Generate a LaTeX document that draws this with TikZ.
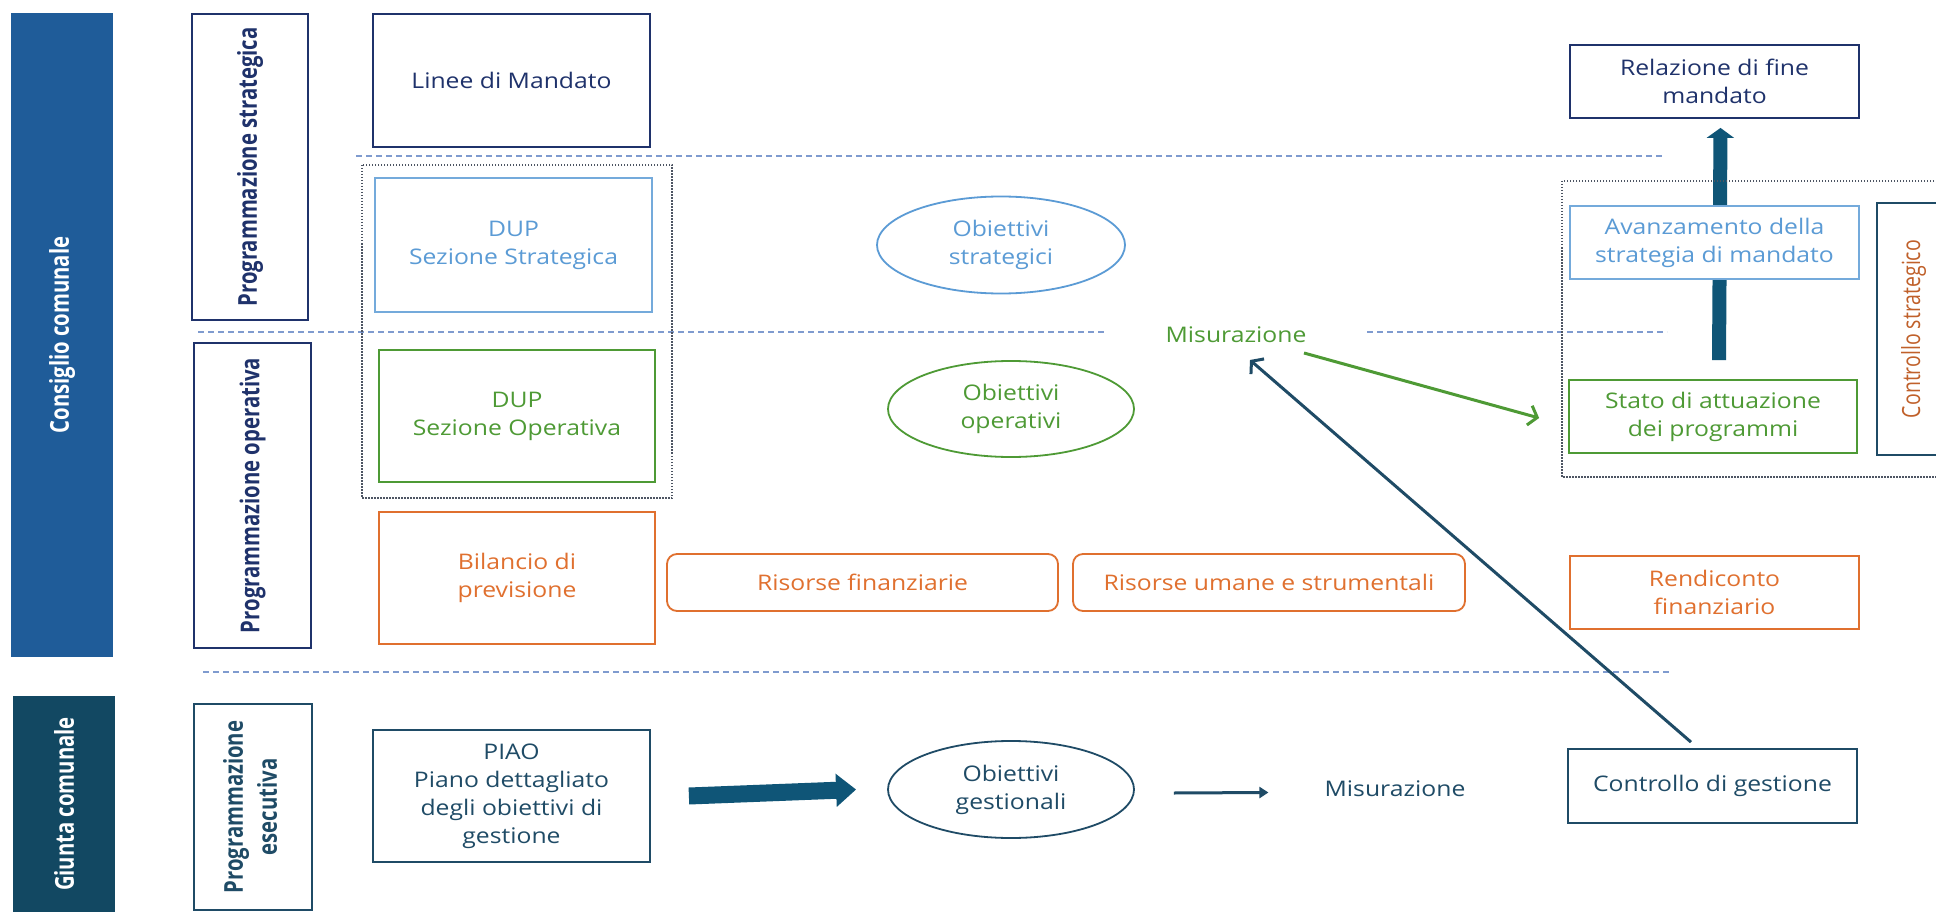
\documentclass[tikz,border=0pt]{standalone}
\usepackage{fontspec}
\setmainfont{Open Sans}[FakeStretch=1.15]
\newfontfamily\vfont{Open Sans}[FakeStretch=0.78]
\usetikzlibrary{arrows.meta,shapes.geometric,backgrounds}
\definecolor{cblue}{HTML}{1F5C99}
\definecolor{gteal}{HTML}{124862}
\definecolor{navy}{HTML}{1F326B}
\definecolor{tnavy}{HTML}{1F4B66}
\definecolor{lblue}{HTML}{5B9BD5}
\definecolor{cgreen}{HTML}{4E9A35}
\definecolor{corange}{HTML}{E0702F}
\definecolor{cbrown}{HTML}{C0602A}
\definecolor{dashc}{HTML}{7F9BCF}
\definecolor{dotc}{HTML}{4D5563}
\definecolor{arrowc}{HTML}{0F5577}
\newcommand\tfs{\fontsize{21.5pt}{28pt}\selectfont}
\newcommand\vfs{\vfont\bfseries\fontsize{26pt}{34pt}\selectfont}
\tikzset{
  every node/.style={inner sep=0pt, align=center, font=\tfs},
  sz/.style 2 args={minimum width=#1pt, minimum height=#2pt},
  rbox/.style={draw, line width=1.8pt, fill=white, rectangle},
  ebox/.style={draw, line width=1.8pt, fill=white, ellipse},
  bar/.style={rectangle, fill=#1, text=white},
  dline/.style={dashc, line width=1.5pt, dash pattern=on 6pt off 4pt},
  dotbox/.style={dotc, line width=1.5pt, dash pattern=on 1.5pt off 1.5pt},
  bigarrow/.style={arrowc, -{Triangle[#1]}},
  thinarrow/.style={line width=3pt, -{Straight Barb[length=8pt,width=20pt]}}
}
\begin{document}
\begin{tikzpicture}[x=1pt,y=-1pt]
\useasboundingbox (0,0) rectangle (1936,912);
\begin{scope}[on background layer]
  \fill[white] (0,0) rectangle (1936,912);
\end{scope}
% dashed separators
\draw[dline] (356,156) -- (1662,156);
\draw[dline] (198,332) -- (1104,332);
\draw[dline] (1367,332) -- (1667,332);
\draw[dline] (203,672) -- (1669,672);
% dotted groups
\draw[dotbox] (362,165) rectangle (672,498);
\draw[dotbox] (1562,181) rectangle (1950,477);

% left bars
\node[bar=cblue, sz={102}{644}] (consiglio) at (62,335) {\rotatebox{90}{\vfs Consiglio comunale}};
\node[bar=gteal, sz={102}{216}] (giunta) at (64,804) {\rotatebox{90}{\vfs Giunta comunale}};
% programmazione boxes
\node[rbox, draw=navy, text=navy, line width=2pt, sz={116}{306}] (pstrat) at (250,167) {\rotatebox{90}{\vfs Programmazione strategica}};
\node[rbox, draw=navy, text=navy, line width=2pt, sz={117}{305}] (poper) at (252.5,495.5) {\rotatebox{90}{\vfs Programmazione operativa}};
\node[rbox, draw=tnavy, text=tnavy, line width=2pt, sz={118}{206}] (pesec) at (253,807) {\rotatebox{90}{\vfs\begin{tabular}{@{}c@{}}Programmazione\\esecutiva\end{tabular}}};

% column of documents
\node[rbox, draw=navy, text=navy, sz={277}{133}] (linee) at (511.5,80.5) {Linee di Mandato};
\node[rbox, draw=lblue!85, text=lblue, sz={277}{134}] (dups) at (513.5,245) {DUP\\Sezione Strategica};
\node[rbox, draw=cgreen, text=cgreen, sz={276}{132}] (dupo) at (517,416) {DUP\\Sezione Operativa};
\node[rbox, draw=corange, text=corange, sz={276}{132}] (bil) at (517,578) {Bilancio di\\previsione};
\node[rbox, draw=tnavy, text=tnavy, sz={277}{132}] (piao) at (511.5,796) {PIAO\\Piano dettagliato\\degli obiettivi di\\gestione};

% resources
\node[rbox, draw=corange, text=corange, rounded corners=10pt, sz={391}{57}] (risfin) at (862.5,582.5) {Risorse finanziarie};
\node[rbox, draw=corange, text=corange, rounded corners=10pt, sz={392}{57}] (risum) at (1269,582.5) {Risorse umane e strumentali};

% objectives
\node[ebox, draw=lblue, text=lblue, sz={248}{97}] (obs) at (1001,245) {Obiettivi\\strategici};
\node[ebox, draw=cgreen, text=cgreen, sz={246}{96}] (obo) at (1011,409) {Obiettivi\\operativi};
\node[ebox, draw=tnavy, text=tnavy, sz={246}{97}] (obg) at (1011,789.5) {Obiettivi\\gestionali};

% measurement labels
\node[text=cgreen] (mis1) at (1236,335) {Misurazione};
\node[text=tnavy] (mis2) at (1395,789) {Misurazione};

% right column
\node[rbox, draw=navy, text=navy, sz={289}{73}] (rel) at (1714.5,81.5) {Relazione di fine\\mandato};
\node[rbox, draw=lblue!85, text=lblue, sz={289}{73}] (ava) at (1714.5,242.5) {Avanzamento della\\strategia di mandato};
\node[rbox, draw=cgreen, text=cgreen, sz={288}{73}] (stato) at (1713,416.5) {Stato di attuazione\\dei programmi};
\node[rbox, draw=tnavy, text=cbrown, sz={73}{252}] (cstrat) at (1913.5,329) {\rotatebox{90}{\vfont\fontsize{25pt}{30pt}\selectfont Controllo strategico}};
\node[rbox, draw=corange, text=corange, sz={289}{73}] (rend) at (1714.5,592.5) {Rendiconto\\finanziario};
\node[rbox, draw=tnavy, text=tnavy, sz={289}{74}] (cg) at (1712.5,786) {Controllo di gestione};

% arrows
\begin{scope}[on background layer]
  \draw[bigarrow={length=10pt,width=27pt}, line width=14pt] ([xshift=6pt,yshift=19pt]stato.north) -- ([xshift=6pt,yshift=-9pt]rel.south);
\end{scope}
\draw[bigarrow={length=20pt,width=32pt}, line width=17pt] ([xshift=38pt]piao.east) -- ([xshift=-31pt]obg.west);
\draw[tnavy, line width=3pt, -{Triangle[length=9pt,width=11pt]}] ([xshift=39pt,yshift=-3.5pt]obg.east) -- ([xshift=-56pt,yshift=-3.5pt]mis2.west);
\draw[tnavy, thinarrow] ([xshift=-21.5pt,yshift=6pt]cg.north) -- ([xshift=14pt,yshift=-25pt]mis1.center);
\draw[cgreen, thinarrow] ([xshift=68pt,yshift=-18pt]mis1.center) -- ([xshift=-29pt,yshift=-1.5pt]stato.west);
\end{tikzpicture}
\end{document}
